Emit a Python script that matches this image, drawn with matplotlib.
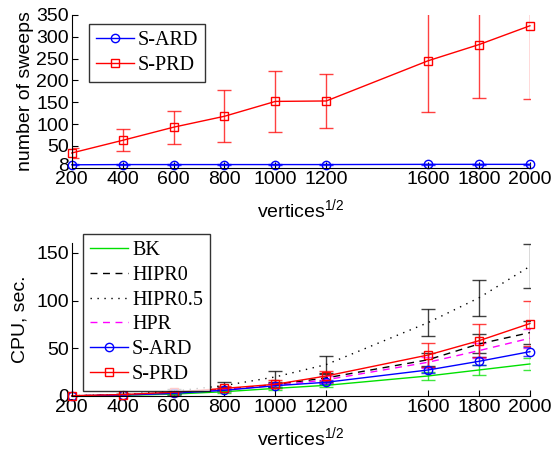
import numpy as np
import matplotlib
matplotlib.use('Agg')
import matplotlib.pyplot as plt
from matplotlib.lines import Line2D

plt.rcParams['font.family'] = 'Liberation Sans'
plt.rcParams['mathtext.default'] = 'regular'

# data
x = [200, 400, 600, 800, 1000, 1200, 1600, 1800, 2000]
xticks = [200, 400, 600, 800, 1000, 1200, 1600, 1800, 2000]

# top panel: number of sweeps
sweeps_ard = [7, 7.5, 7.5, 7.5, 7.5, 7.5, 8, 8, 8]
sweeps_ard_err = [1, 1, 1, 1, 1, 1, 1, 1, 1]
sweeps_prd = [34, 63, 93, 118, 152, 153, 245, 282, 325]
sweeps_prd_err = [11, 25, 38, 60, 70, 61, 117, 123, 167]

# bottom panel: CPU time
cpu_bk = [0.1, 0.7, 2, 4.5, 8, 11.2, 21, 27.3, 33.6]
cpu_bk_err = [0.1, 0.3, 0.6, 1, 1.5, 2, 4, 5, 6]
cpu_hipr0 = [0.2, 1.2, 3.5, 7, 12, 19, 38, 54.6, 66.5]
cpu_hipr0_err = [0.1, 0.4, 1, 2, 3, 4, 7, 10, 12]
cpu_hipr05 = [0.3, 1.5, 5, 11, 20, 33, 77, 103, 136]
cpu_hipr05_err = [0.2, 0.6, 2, 4, 6, 8.5, 14, 19, 23]
cpu_hpr = [0.2, 1, 3, 6.5, 11, 17, 35.4, 47.6, 60.6]
cpu_hpr_err = [0.1, 0.3, 0.8, 1.5, 2.5, 3.5, 6, 8, 10]
cpu_ard = [0.2, 1, 2.8, 6, 10.8, 14.4, 27.3, 36.4, 46.5]
cpu_ard_err = [0.1, 0.3, 0.6, 1, 1.5, 2, 3, 4, 5]
cpu_prd = [0.3, 1.5, 4, 8, 12.3, 21, 43, 58, 76]
cpu_prd_err = [0.2, 0.5, 1.2, 3, 4, 5, 13, 17, 24]

fig = plt.figure(figsize=(5.52, 4.5), dpi=100)
ax1 = fig.add_axes([0.130, 0.627, 0.830, 0.340])
ax2 = fig.add_axes([0.130, 0.120, 0.830, 0.339])


def eb(ax, y, err, color, ls='-', marker=None):
    line, caps, bars = ax.errorbar(x, y, yerr=err, color=color, ls=ls, lw=1,
                                   marker=marker, ms=6, mfc='none', mew=1,
                                   capsize=5, elinewidth=1, ecolor=color)
    line.set_clip_on(False)
    for c in caps:
        c.set_alpha(0.75)
    for b in bars:
        b.set_alpha(0.75)
    return Line2D([], [], color=color, ls=ls, lw=1, marker=marker, ms=6,
                  mfc='none', mew=1)


h1 = [eb(ax1, sweeps_ard, sweeps_ard_err, 'blue', marker='o'),
      eb(ax1, sweeps_prd, sweeps_prd_err, 'red', marker='s')]
ax1.set_xlim(200, 2000)
ax1.set_ylim(0, 350)
ax1.set_yticks([8, 50, 100, 150, 200, 250, 300, 350])
ax1.set_ylabel('number of sweeps', fontsize=14, labelpad=2)

h2 = [eb(ax2, cpu_bk, cpu_bk_err, '#00e000'),
      eb(ax2, cpu_hipr0, cpu_hipr0_err, 'black', ls=(0, (5, 4))),
      eb(ax2, cpu_hipr05, cpu_hipr05_err, 'black', ls=(0, (1, 4))),
      eb(ax2, cpu_hpr, cpu_hpr_err, 'magenta', ls=(0, (5, 4))),
      eb(ax2, cpu_ard, cpu_ard_err, 'blue', marker='o'),
      eb(ax2, cpu_prd, cpu_prd_err, 'red', marker='s')]
ax2.set_xlim(200, 2000)
ax2.set_ylim(0, 160)
ax2.set_yticks([0, 50, 100, 150])
ax2.set_ylabel('CPU, sec.', fontsize=14, labelpad=6)

for ax in (ax1, ax2):
    ax.set_xticks(xticks)
    ax.set_xlabel('vertices$^{1/2}$', fontsize=14, labelpad=7)
    ax.spines['top'].set_visible(False)
    ax.spines['right'].set_visible(False)
    ax.tick_params(direction='in', labelsize=14, length=4, pad=2)

leg_kw = dict(loc='upper left', prop={'family': 'Liberation Serif', 'size': 14.5},
              frameon=True, fancybox=False, edgecolor='black',
              handlelength=1.9, handletextpad=0.2, borderpad=0.35,
              labelspacing=0.28, borderaxespad=0)
leg1 = ax1.legend(h1, ['S-ARD', 'S-PRD'], bbox_to_anchor=(0.037, 0.941), **leg_kw)
leg1.get_frame().set_linewidth(1)

leg2 = ax2.legend(h2, ['BK', 'HIPR0', 'HIPR0.5', 'HPR', 'S-ARD', 'S-PRD'],
                  bbox_to_anchor=(0.024, 1.061), **leg_kw)
leg2.get_frame().set_linewidth(1)

fig.savefig('out.png', dpi=100)
